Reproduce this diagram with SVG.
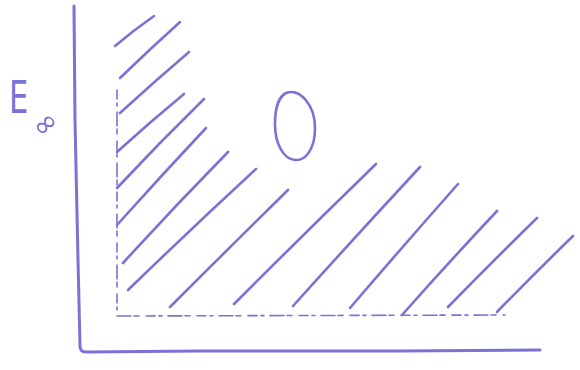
<svg xmlns="http://www.w3.org/2000/svg" width="580" height="370" viewBox="0 0 580 370">
<style>
.ink{fill:none;stroke:#7b72d8;stroke-linecap:round;stroke-linejoin:round}
.axis{stroke-width:3}
.hatch{stroke-width:2.6}
.dash{stroke-width:1.6;stroke-dasharray:9 4 3 6 14 3 5 7}
.lbl{fill:#7b72d8;font-family:"DejaVu Sans","Liberation Sans",sans-serif}
</style>
<rect width="580" height="370" fill="#ffffff"/>
<g id="axes">
<path class="ink axis" d="M74,6 L75,120 L78,260 L80,346 Q80,352 86,352 L200,351 L400,351 L540,350"/>
</g>
<g id="label">
<text class="lbl" x="0" y="0" font-size="45" transform="translate(9 113) scale(0.68 1)">E</text>
<text class="lbl" x="0" y="0" font-size="30" text-anchor="middle" transform="translate(45 124) rotate(-40) translate(0 10)">∞</text>
</g>
<g id="region">
<path class="ink dash" d="M117,90 L117,316 L505,315"/>
<g id="hatching">
<path class="ink hatch" d="M115,46 Q134,30 154,16"/>
<path class="ink hatch" d="M120,78 Q150,49 180,22"/>
<path class="ink hatch" d="M120,113 Q155,81 189,52"/>
<path class="ink hatch" d="M117,152 Q150,122 184,94"/>
<path class="ink hatch" d="M117,188 Q160,142 204,99"/>
<path class="ink hatch" d="M117,225 Q161,176 206,128"/>
<path class="ink hatch" d="M123,263 Q175,206 228,152"/>
<path class="ink hatch" d="M128,290 Q192,228 256,169"/>
<path class="ink hatch" d="M170,307 Q229,248 288,190"/>
<path class="ink hatch" d="M234,304 Q305,233 376,164"/>
<path class="ink hatch" d="M293,306 Q356,236 420,167"/>
<path class="ink hatch" d="M350,308 Q404,245 458,184"/>
<path class="ink hatch" d="M402,315 Q449,262 497,211"/>
<path class="ink hatch" d="M448,307 Q492,262 537,218"/>
<path class="ink hatch" d="M497,312 Q535,273 573,236"/>
</g>
</g>
<g id="zero">
<path class="ink" stroke-width="2.6" d="M286,93 C300,88 315,105 315,128 C315,150 305,161 295,160 C283,159 275,143 275,124 C275,106 280,96 286,93"/>
</g>
</svg>
